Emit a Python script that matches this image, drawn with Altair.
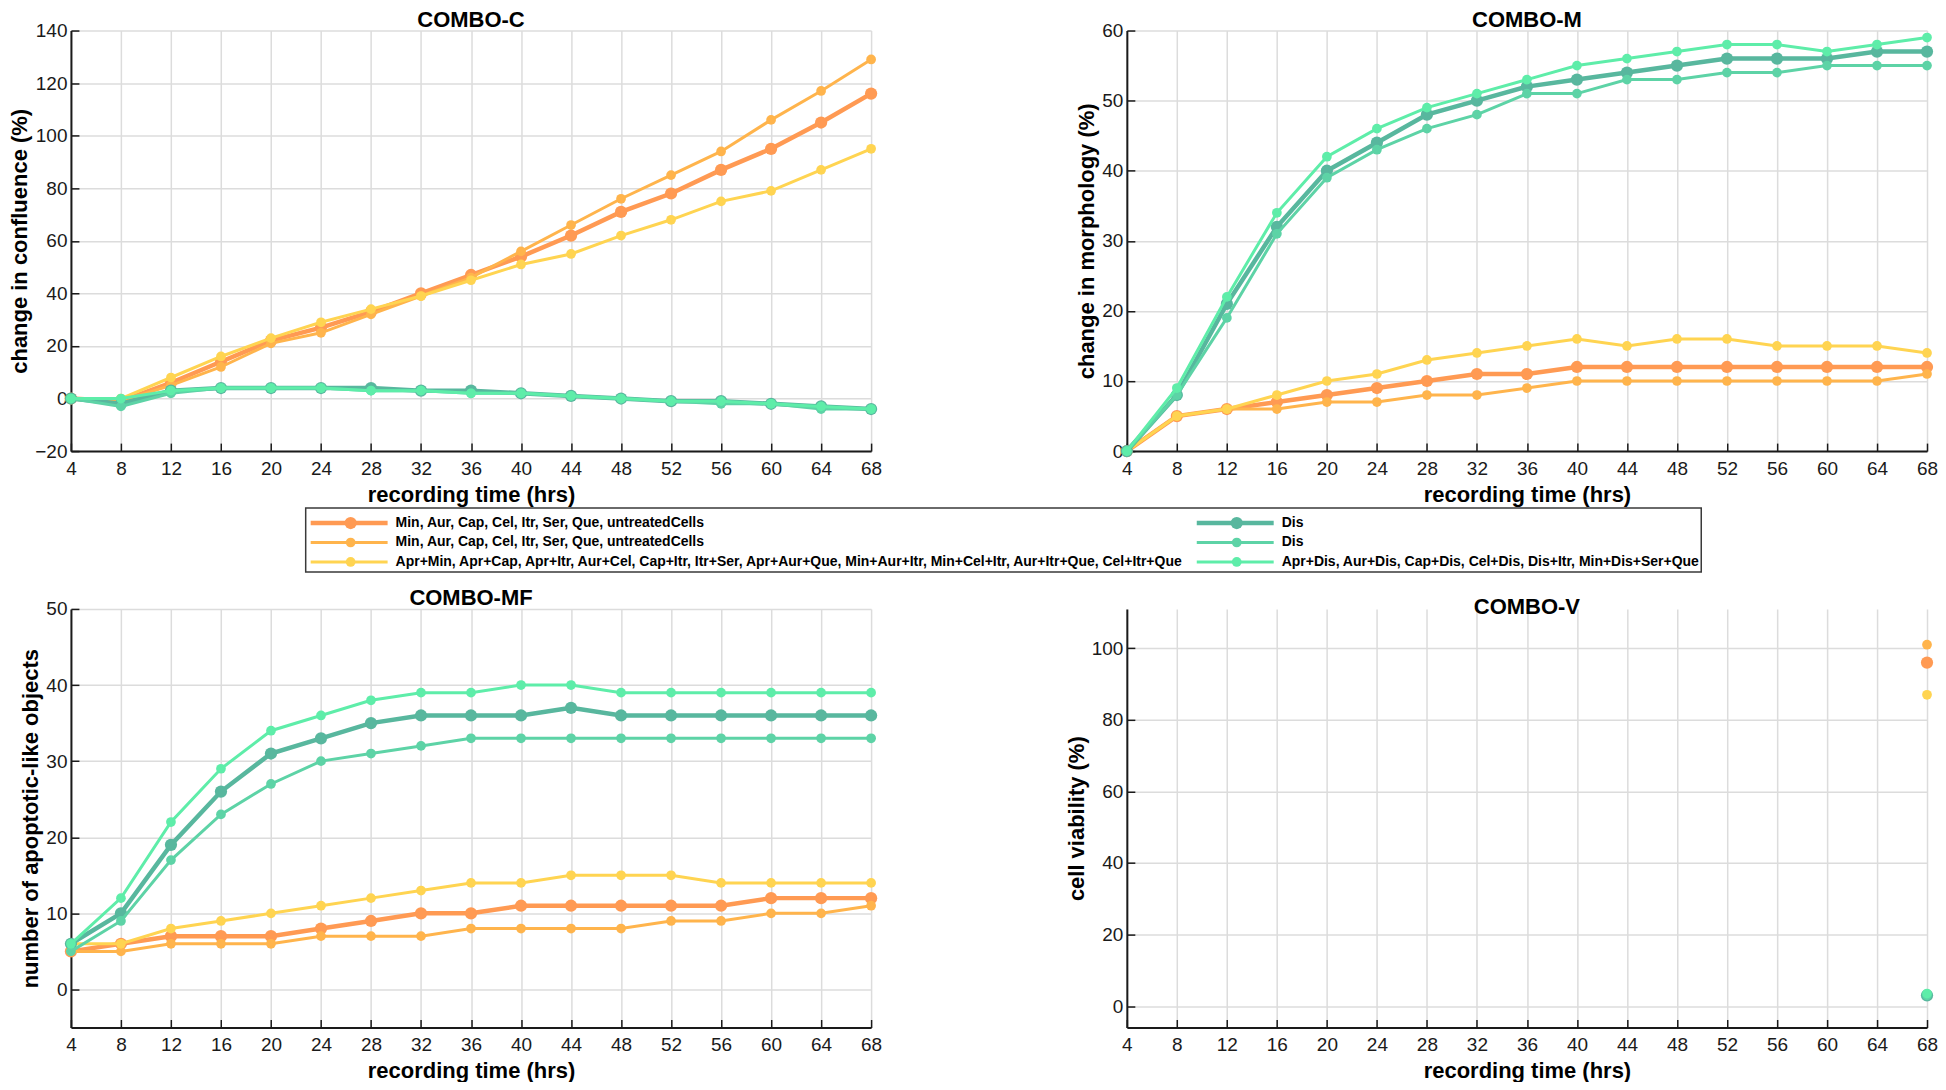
import altair as alt
import pandas as pd

FONT = "Liberation Sans"

# ---------------- data ----------------
hours = [4, 8, 12, 16, 20, 24, 28, 32, 36, 40, 44, 48, 52, 56, 60, 64, 68]

series_ids = ["s1", "s2", "s3", "s4", "s5", "s6"]
series_labels = [
    "Min, Aur, Cap, Cel, Itr, Ser, Que, untreatedCells",
    "Min, Aur, Cap, Cel, Itr, Ser, Que, untreatedCells",
    "Apr+Min, Apr+Cap, Apr+Itr, Aur+Cel, Cap+Itr, Itr+Ser, Apr+Aur+Que, Min+Aur+Itr, Min+Cel+Itr, Aur+Itr+Que, Cel+Itr+Que",
    "Dis",
    "Dis",
    "Apr+Dis, Aur+Dis, Cap+Dis, Cel+Dis, Dis+Itr, Min+Dis+Ser+Que",
]
series_colors = ["#FF9A53", "#FFB44C", "#FFD451", "#58B79E", "#5DD3A6", "#5EEDA9"]
line_widths = [4.5, 3, 3, 4.5, 3, 3]
point_sizes = [150, 95, 95, 150, 95, 95]

# COMBO-C : change in confluence (%)
conf_s1 = [0, -1, 6, 14, 22, 27, 33, 40, 47, 54, 62, 71, 78, 87, 95, 105, 116]
conf_s2 = [0, -1, 5, 12, 21, 25, 32, 39, 46, 56, 66, 76, 85, 94, 106, 117, 129]
conf_s3 = [0, 0, 8, 16, 23, 29, 34, 39, 45, 51, 55, 62, 68, 75, 79, 87, 95]
conf_s4 = [0, -2, 3, 4, 4, 4, 4, 3, 3, 2, 1, 0, -1, -1, -2, -3, -4]
conf_s5 = [0, -3, 2, 4, 4, 4, 3, 3, 2, 2, 1, 0, -1, -2, -2, -4, -4]
conf_s6 = [0, 0, 3, 4, 4, 4, 3, 3, 2, 2, 1, 0, -1, -1, -2, -3, -4]

# COMBO-M : change in morphology (%)
morph_s1 = [0, 5, 6, 7, 8, 9, 10, 11, 11, 12, 12, 12, 12, 12, 12, 12, 12]
morph_s2 = [0, 5, 6, 6, 7, 7, 8, 8, 9, 10, 10, 10, 10, 10, 10, 10, 11]
morph_s3 = [0, 5, 6, 8, 10, 11, 13, 14, 15, 16, 15, 16, 16, 15, 15, 15, 14]
morph_s4 = [0, 8, 21, 32, 40, 44, 48, 50, 52, 53, 54, 55, 56, 56, 56, 57, 57]
morph_s5 = [0, 8, 19, 31, 39, 43, 46, 48, 51, 51, 53, 53, 54, 54, 55, 55, 55]
morph_s6 = [0, 9, 22, 34, 42, 46, 49, 51, 53, 55, 56, 57, 58, 58, 57, 58, 59]

# COMBO-MF : number of apoptotic-like objects
mf_s1 = [5, 6, 7, 7, 7, 8, 9, 10, 10, 11, 11, 11, 11, 11, 12, 12, 12]
mf_s2 = [5, 5, 6, 6, 6, 7, 7, 7, 8, 8, 8, 8, 9, 9, 10, 10, 11]
mf_s3 = [6, 6, 8, 9, 10, 11, 12, 13, 14, 14, 15, 15, 15, 14, 14, 14, 14]
mf_s4 = [6, 10, 19, 26, 31, 33, 35, 36, 36, 36, 37, 36, 36, 36, 36, 36, 36]
mf_s5 = [5, 9, 17, 23, 27, 30, 31, 32, 33, 33, 33, 33, 33, 33, 33, 33, 33]
mf_s6 = [6, 12, 22, 29, 34, 36, 38, 39, 39, 40, 40, 39, 39, 39, 39, 39, 39]

# COMBO-V : cell viability (%) at the end of recording
v_hours = [68]
v_s1 = [96]
v_s2 = [101]
v_s3 = [87]
v_s4 = [3]
v_s5 = [3]
v_s6 = [3.5]

# ---------------- layout ----------------
W = 801
H1 = 421
H2 = 419
HSP = 256
VSP = 158
INK = "#1a1a1a"

AX = dict(
    labelFont=FONT, labelFontSize=19, labelColor=INK,
    titleFont=FONT, titleFontSize=22, titleFontWeight="bold", titleColor="#000",
    domainColor=INK, domainWidth=2, gridColor="#DCDCDC", gridWidth=1.5,
    ticks=False, labelFlush=False,
)


def legend_layer(H):
    """Legend box drawn below the first panel, spanning both columns."""
    BOX_L, BOX_R = 235, 1632
    BOX_T = H + 57
    BOX_B = BOX_T + 64
    col_start = [BOX_L + 5, 1127]
    row_y = [BOX_T + 15, BOX_T + 34.5, BOX_T + 54]
    lxs = alt.Scale(domain=[0, W], nice=False, zero=False)
    lys = alt.Scale(domain=[0, H], nice=False, zero=False, reverse=True)
    layers = [
        alt.Chart(pd.DataFrame({"k": [0]})).mark_rect(
            fillOpacity=0, stroke="#3a3a3a", strokeWidth=1.5
        ).encode(x=alt.value(BOX_L), x2=alt.value(BOX_R),
                 y=alt.value(BOX_T), y2=alt.value(BOX_B))
    ]
    for i, sid in enumerate(series_ids):
        col, row = i // 3, i % 3
        x0 = col_start[col]
        d = pd.DataFrame({
            "x0": [x0], "x1": [x0 + 77], "xd": [x0 + 40], "xt": [x0 + 85],
            "ly": [row_y[row]], "label": [series_labels[i]],
        })
        c = alt.Chart(d)
        layers.append(
            c.mark_rule(color=series_colors[i], strokeWidth=line_widths[i]).encode(
                x=alt.X("x0:Q", scale=lxs, axis=None), x2="x1:Q",
                y=alt.Y("ly:Q", scale=lys, axis=None))
        )
        layers.append(
            c.mark_circle(color=series_colors[i], size=point_sizes[i], opacity=1).encode(
                x=alt.X("xd:Q", scale=lxs, axis=None), y=alt.Y("ly:Q", scale=lys, axis=None))
        )
        layers.append(
            c.mark_text(align="left", baseline="middle", font=FONT, fontSize=14,
                        fontWeight="bold", color="#000").encode(
                x=alt.X("xt:Q", scale=lxs, axis=None), y=alt.Y("ly:Q", scale=lys, axis=None),
                text="label:N")
        )
    return alt.layer(*layers)


def panel(title, ytitle, ydom, yvals, xvals, vals_list, H, lines=True, with_legend=False):
    xs = alt.Scale(domain=[4, 68], nice=False, zero=False)
    ys = alt.Scale(domain=ydom, nice=False, zero=False)
    xenc = alt.X("hrs:Q", scale=xs,
                 axis=alt.Axis(values=hours, title="recording time (hrs)", grid=True,
                               labelPadding=8, titlePadding=6, **AX))
    yenc = alt.Y("val:Q", scale=ys,
                 axis=alt.Axis(values=yvals, title=ytitle, grid=True,
                               labelPadding=4, titlePadding=3, **AX))
    layers = []
    for i, sid in enumerate(series_ids):
        df = pd.DataFrame({"hrs": xvals, "val": vals_list[i], "sid": sid})
        c = alt.Chart(df)
        if lines:
            layers.append(c.mark_line(color=series_colors[i], strokeWidth=line_widths[i])
                          .encode(x=xenc, y=yenc))
        layers.append(c.mark_circle(color=series_colors[i], size=point_sizes[i], opacity=1)
                      .encode(x=xenc, y=yenc))
    data_layer = alt.layer(*layers)

    tick_df = pd.DataFrame({"hrs": xvals, "val": vals_list[0]})
    tx = alt.X("hrs:Q", scale=xs,
               axis=alt.Axis(orient="top", offset=-H, values=hours, labels=False,
                             domain=False, grid=False, ticks=True, tickSize=8,
                             tickWidth=1.5, tickColor=INK, title=None))
    ty = alt.Y("val:Q", scale=ys,
               axis=alt.Axis(orient="right", offset=-W, values=yvals, labels=False,
                             domain=False, grid=False, ticks=True, tickSize=8,
                             tickWidth=1.5, tickColor=INK, title=None))
    tick_layer = alt.Chart(tick_df).mark_circle(opacity=0).encode(x=tx, y=ty)

    core = alt.layer(data_layer, tick_layer).resolve_axis(x="independent", y="independent")
    if with_legend:
        core = alt.layer(core, legend_layer(H)).resolve_scale(x="independent", y="independent")

    return core.properties(
        width=W, height=H,
        title=alt.TitleParams(title, font=FONT, fontSize=22, fontWeight="bold",
                              color="#000", offset=-10, anchor="middle"),
    )


pC = panel("COMBO-C", "change in confluence (%)", [-20, 140], list(range(-20, 141, 20)),
           hours, [conf_s1, conf_s2, conf_s3, conf_s4, conf_s5, conf_s6], H1, with_legend=True)
pM = panel("COMBO-M", "change in morphology (%)", [0, 60], list(range(0, 61, 10)),
           hours, [morph_s1, morph_s2, morph_s3, morph_s4, morph_s5, morph_s6], H1)
pMF = panel("COMBO-MF", "number of apoptotic-like objects", [-5, 50], list(range(0, 51, 10)),
            hours, [mf_s1, mf_s2, mf_s3, mf_s4, mf_s5, mf_s6], H2)
pV = panel("COMBO-V", "cell viability (%)", [-6, 111], list(range(0, 101, 20)),
           v_hours, [v_s1, v_s2, v_s3, v_s4, v_s5, v_s6], H2, lines=False)

chart = (
    alt.concat(pC, pM, pMF, pV, columns=2,
               spacing={"row": VSP, "column": HSP}, bounds="flush")
    .properties(padding=0, background="white")
    .configure_view(stroke=None)
)

chart.save("out.html", embed_options={"renderer": "svg", "actions": False})
